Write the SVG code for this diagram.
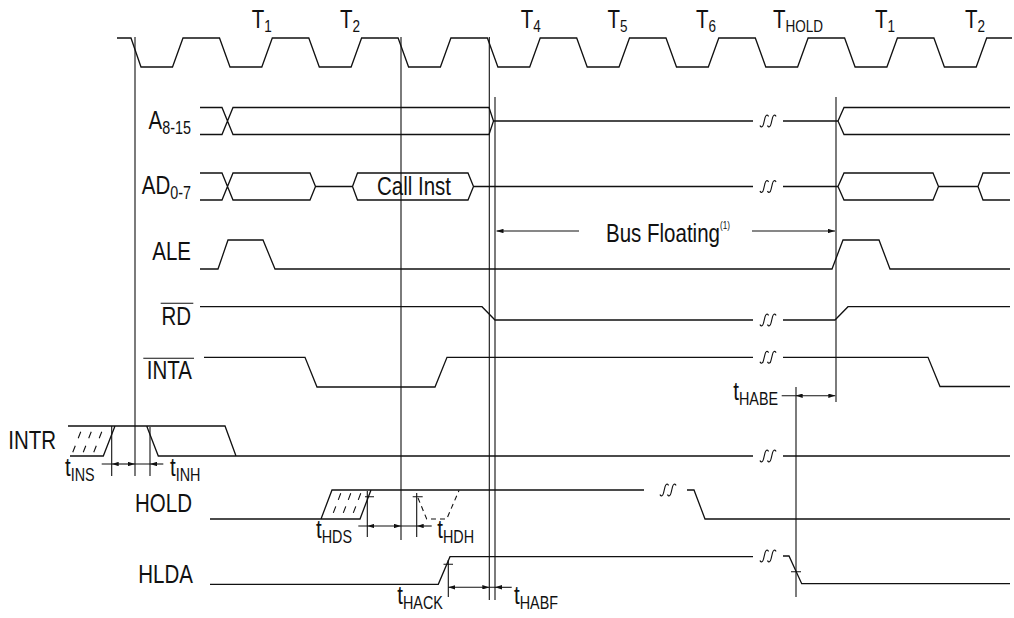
<svg xmlns="http://www.w3.org/2000/svg" xmlns:xlink="http://www.w3.org/1999/xlink" width="1014" height="618" viewBox="0 0 1014 618">
<style>
.ln{fill:none;stroke:#111;stroke-width:1.3;stroke-linejoin:miter}
.th{fill:none;stroke:#111;stroke-width:1.1}
.hatch{fill:none;stroke:#111;stroke-width:1.1;stroke-dasharray:7 7;stroke-dashoffset:7.5}
.hatch2{fill:none;stroke:#111;stroke-width:1.1;stroke-dasharray:7 8;stroke-dashoffset:11}
.dsh{fill:none;stroke:#111;stroke-width:1.1;stroke-dasharray:5 4}
.dim{fill:none;stroke:#111;stroke-width:1.1}
.arr{marker-end:url(#ah)}
.arr2{marker-start:url(#ah);marker-end:url(#ah)}
text{font-family:"Liberation Sans",Arial,sans-serif;fill:#111}
.lbl{font-size:25px}
.sub{font-size:17.5px}
.tsub{font-size:16.5px}
.sup{font-size:10px}
</style>
<defs>
<marker id="ah" viewBox="0 0 7 4.4" refX="7" refY="2.2" markerWidth="7" markerHeight="4.4" markerUnits="userSpaceOnUse" orient="auto-start-reverse"><path d="M0,0 L7,2.2 L0,4.4 Z" fill="#111"/></marker>
<g id="brk"><path d="M-8,4.5 C-7,7 -5,6 -4.5,3 L-3,-3 C-2.5,-6 -0.5,-7 0.5,-4.5 M-0.5,4.5 C0.5,7 2.5,6 3,3 L4.5,-3 C5,-6 7,-7 8,-4.5" class="th"/></g>
</defs>

<g id="clock">
<path class="ln" d="M117,38 H131 L141,67 H172.5 L183,38 H219.5 L230,67 H261.8 L272.3,38 H308.8 L319.3,67 H351.1 L361.6,38 H398.1 L408.6,67 H440.4 L450.9,38 H487.4 L497.9,67 H529.7 L540.2,38 H576.7 L587.2,67 H619 L629.5,38 H666 L676.5,67 H708.3 L718.8,38 H755.3 L765.8,67 H797.6 L808.1,38 H844.6 L855.1,67 H886.9 L897.4,38 H933.9 L944.4,67 H976.2 L986.7,38 H1012"/>
<text class="lbl" transform="translate(251.7,28.3) scale(.82,1)">T<tspan class="tsub" dy="4">1</tspan></text>
<text class="lbl" transform="translate(340,28.3) scale(.82,1)">T<tspan class="tsub" dy="4">2</tspan></text>
<text class="lbl" transform="translate(520.7,28.3) scale(.82,1)">T<tspan class="tsub" dy="4">4</tspan></text>
<text class="lbl" transform="translate(607.5,28.3) scale(.82,1)">T<tspan class="tsub" dy="4">5</tspan></text>
<text class="lbl" transform="translate(696,28.3) scale(.82,1)">T<tspan class="tsub" dy="4">6</tspan></text>
<text class="lbl" transform="translate(773,28.3) scale(.82,1)">T<tspan class="tsub" dy="4">HOLD</tspan></text>
<text class="lbl" transform="translate(875,28.3) scale(.82,1)">T<tspan class="tsub" dy="4">1</tspan></text>
<text class="lbl" transform="translate(965,28.3) scale(.82,1)">T<tspan class="tsub" dy="4">2</tspan></text>
</g>

<g id="a8-15">
<text class="lbl" text-anchor="end" transform="translate(191,128.5) scale(.82,1)">A<tspan class="sub" dy="5">8-15</tspan></text>
<path class="ln" d="M200,107.5 H222 L233,134.5 H489 L493.5,121 L489,107.5 H233 L222,134.5 H200"/>
<path class="ln" d="M493.5,121 H753 M783,121 H838 M1010,107.5 H844 L838,121 L844,134.5 H1010"/>
<use xlink:href="#brk" x="768" y="121"/>
</g>

<g id="ad0-7">
<text class="lbl" text-anchor="end" transform="translate(191,194) scale(.82,1)">AD<tspan class="sub" dy="5">0-7</tspan></text>
<path class="ln" d="M200,173 H222 L233,200 H310 L315.5,186.5 L310,173 H233 L222,200 H200"/>
<path class="ln" d="M315.5,186.5 H352.5 M352.5,186.5 L357.5,173 H468 L473.5,186.5 L468,200 H357.5 Z M473.5,186.5 H753 M783,186.5 H838"/>
<path class="ln" d="M838,186.5 L844,173 H933 L938.5,186.5 L933,200 H844 Z M938.5,186.5 H978 M1010,173 H983 L978,186.5 L983,200 H1010"/>
<use xlink:href="#brk" x="768" y="186.5"/>
<text class="lbl" text-anchor="middle" transform="translate(414,195) scale(.82,1)">Call Inst</text>
</g>

<g id="ale">
<text class="lbl" text-anchor="end" transform="translate(191,260) scale(.82,1)">ALE</text>
<path class="ln" d="M200,269 H218 L228,240 H263 L275,269 H832 L843,240 H879 L890,269 H1010"/>
</g>

<g id="bus-floating">
<text class="lbl" transform="translate(606,242) scale(.82,1)">Bus Floating<tspan class="sup" dy="-13">(1)</tspan></text>
</g>

<g id="rd">
<text class="lbl" text-anchor="end" transform="translate(191,325) scale(.82,1)">RD</text>
<path class="th" d="M160.7,303.3 H193.3"/>
<path class="ln" d="M200,306.7 H482 L495,320 H753 M783,320 H835 L848,306.7 H1010"/>
<use xlink:href="#brk" x="768" y="320"/>
</g>

<g id="inta">
<text class="lbl" text-anchor="end" transform="translate(192,379) scale(.82,1)">INTA</text>
<path class="th" d="M143.3,358.3 H194"/>
<path class="ln" d="M204,357.3 H305 L317,387 H435 L447,357.3 H753 M783,357.3 H928 L940,386.5 H1010"/>
<use xlink:href="#brk" x="768" y="357.3"/>
</g>

<g id="intr">
<text class="lbl" transform="translate(8.3,448.5) scale(.82,1)">INTR</text>
<path class="ln" d="M68,426 H225 L236,456 M70,456 H103.3 L115,426 M146.7,426 L158.3,456 H753 M783,456 H1010"/>
<path class="hatch2" d="M92.3,456 L104,426 M81.8,456 L93.5,426 M71.3,456 L83,426"/>
<use xlink:href="#brk" x="768" y="456"/>
</g>

<g id="hold">
<text class="lbl" text-anchor="end" transform="translate(192,512) scale(.82,1)">HOLD</text>
<path class="ln" d="M210,519 H360 L371,490 M321,519 L332,490 H644 M687,490 H694 L705,519 H1010"/>
<path class="hatch" d="M331,519 L342,490 M341,519 L352,490 M351,519 L362,490"/>
<path class="dsh" d="M418,498 L426.7,519 H446.7 L459,490.5"/>
<path class="th" d="M365,496.7 H374 M412.7,496.7 H422.7"/>
<use xlink:href="#brk" x="668" y="490"/>
</g>

<g id="hlda">
<text class="lbl" text-anchor="end" transform="translate(193,583) scale(.82,1)">HLDA</text>
<path class="ln" d="M210,584.3 H438.3 L450,556.7 H753 M783,556 H789 L801.7,583.7 H1010"/>
<path class="th" d="M443.5,564.3 H453 M791,571.7 H801"/>
<use xlink:href="#brk" x="768" y="556"/>
</g>

<g id="connectors">
<path class="th" d="M135,37 V476 M401,37 V540 M489.3,37 V600 M495,97 V600 M836,97 V402 M796,387 V597 M111.7,426 V476 M150,427 V476 M367.3,491 V537 M416.7,493 V537 M448.3,560 V597"/>
<path class="dim" d="M101.7,464 H111.7 M135,464 H150 M358.3,526 H367.3 M401,526 H416.7 M489.3,587.3 H495 M781.7,395.7 H795.7"/>
<path class="dim arr2" d="M111.7,464 H135"/>
<path class="dim arr" d="M163.3,464 H150"/>
<path class="dim arr2" d="M367.3,526 H401"/>
<path class="dim arr" d="M431.7,526 H416.7"/>
<path class="dim arr2" d="M448.3,587.3 H489.3"/>
<path class="dim arr" d="M511.7,587.3 H495"/>
<path class="dim arr2" d="M795.7,395.7 H835.3"/>
<path class="dim arr" d="M579,231 H496.5"/>
<path class="dim arr" d="M752,231 H835"/>
<text class="lbl" transform="translate(65,476) scale(.82,1)">t<tspan class="sub" dy="5">INS</tspan></text>
<text class="lbl" transform="translate(170,476) scale(.82,1)">t<tspan class="sub" dy="5">INH</tspan></text>
<text class="lbl" transform="translate(316,538) scale(.82,1)">t<tspan class="sub" dy="5">HDS</tspan></text>
<text class="lbl" transform="translate(437.3,538) scale(.82,1)">t<tspan class="sub" dy="5">HDH</tspan></text>
<text class="lbl" transform="translate(397.3,604) scale(.82,1)">t<tspan class="sub" dy="5">HACK</tspan></text>
<text class="lbl" transform="translate(514,604) scale(.82,1)">t<tspan class="sub" dy="5">HABF</tspan></text>
<text class="lbl" transform="translate(733.3,400) scale(.82,1)">t<tspan class="sub" dy="5">HABE</tspan></text>
</g>
</svg>
